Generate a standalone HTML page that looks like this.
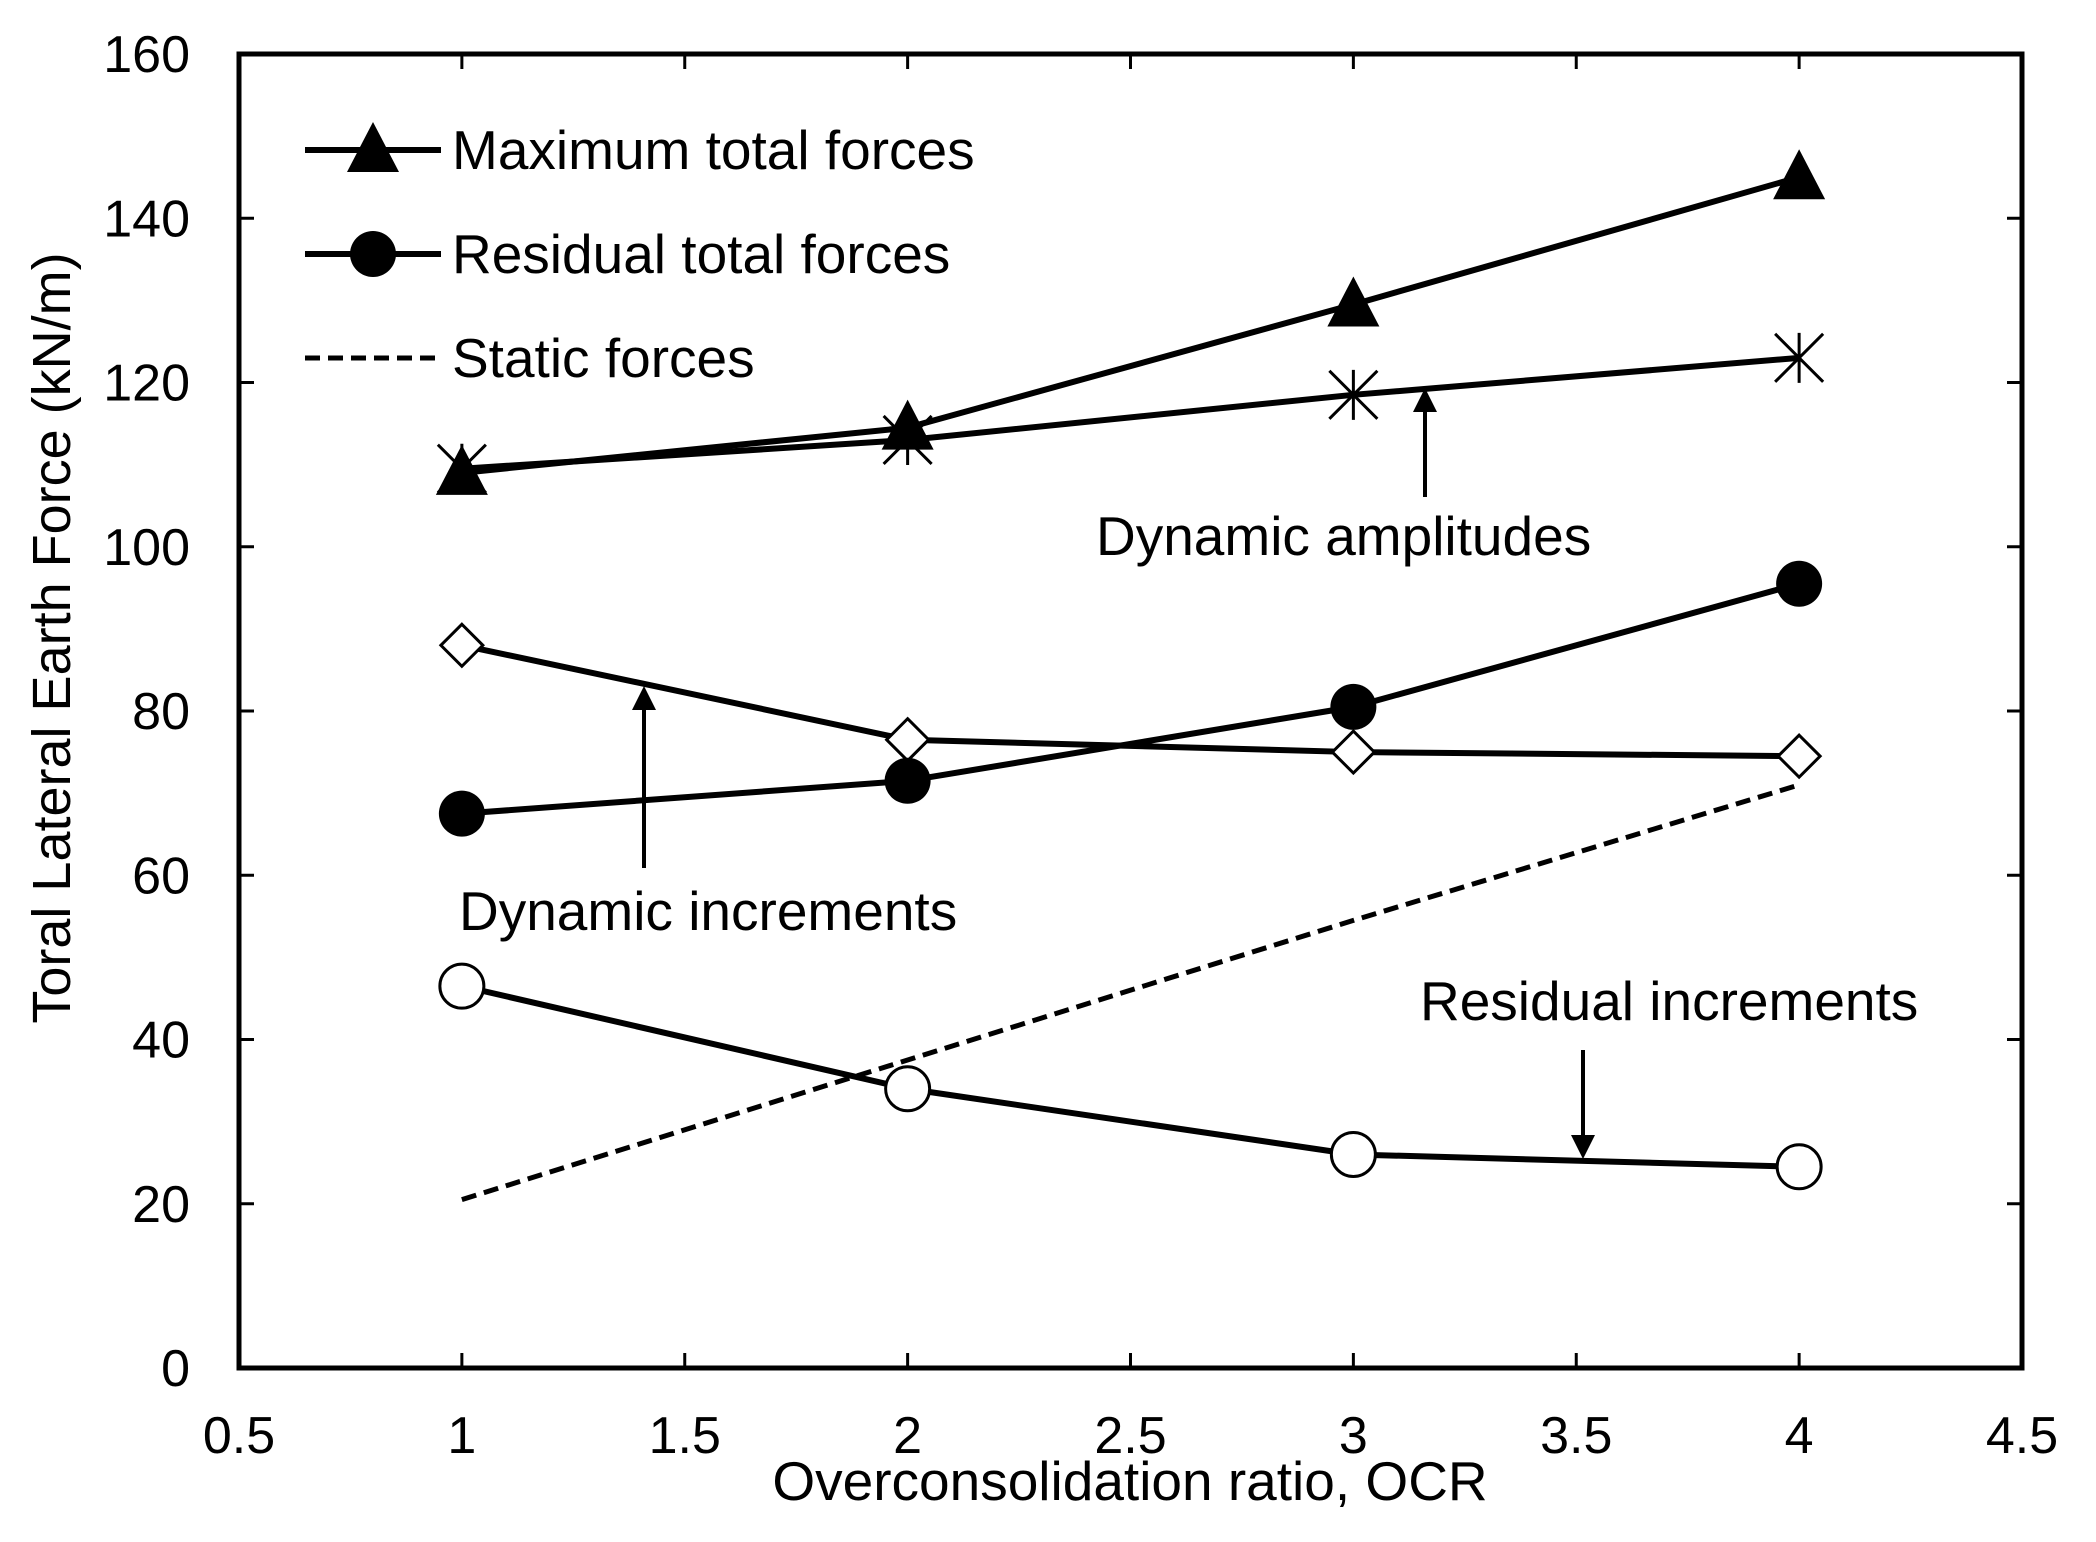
<!DOCTYPE html>
<html><head><meta charset="utf-8"><style>html,body{margin:0;padding:0;background:#fff}svg{display:block}text{font-family:"Liberation Sans",Arial,sans-serif;fill:#000}</style></head>
<body>
<svg id="chart" width="2096" height="1542" xmlns="http://www.w3.org/2000/svg"></svg>
<script>
const categories=[1,2,3,4];
const maxTotal=[109,114.5,129.5,145];
const dynAmp=[109.5,113,118.5,123];
const dynInc=[88,76.5,75,74.5];
const resTotal=[67.5,71.5,80.5,95.5];
const resInc=[46.5,34,26,24.5];
const staticF=[20.5,37.5,54.5,71];
const xTicks=[0.5,1,1.5,2,2.5,3,3.5,4,4.5];
const yTicks=[0,20,40,60,80,100,120,140,160];
const L=239,R=2022,T=54,B=1368;
const X=v=>L+(v-0.5)/4*(R-L);
const Y=v=>B-v/160*(B-T);
const svg=document.getElementById('chart');
const NS='http://www.w3.org/2000/svg';
function mk(tag,attrs,parent){const e=document.createElementNS(NS,tag);for(const k in attrs)e.setAttribute(k,attrs[k]);(parent||svg).appendChild(e);return e;}
function txt(s,x,y,size,anchor,name){const t=mk('text',{x:x,y:y,'font-size':size,'text-anchor':anchor||'start'});t.textContent=s;


return t;}
const frame=mk('rect',{x:L,y:T,width:R-L,height:B-T,fill:'none',stroke:'#000','stroke-width':5});


xTicks.forEach(v=>{const x=X(v);
 const t1=mk('line',{x1:x,x2:x,y1:B,y2:B-15,stroke:'#000','stroke-width':3});
 
 
 const t2=mk('line',{x1:x,x2:x,y1:T,y2:T+15,stroke:'#000','stroke-width':3});
 
 
 txt(String(v),x,1453,52,'middle','x-tick-label');});
yTicks.forEach(v=>{const y=Y(v);
 const t1=mk('line',{x1:L,x2:L+15,y1:y,y2:y,stroke:'#000','stroke-width':3});
 
 
 const t2=mk('line',{x1:R,x2:R-15,y1:y,y2:y,stroke:'#000','stroke-width':3});
 
 
 txt(String(v),190,y+18,52,'end','y-tick-label');});
txt('Overconsolidation ratio, OCR',1130,1500,55,'middle','x-axis-title');
const yt=txt('Toral Lateral Earth Force (kN/m)',0,0,54,'middle','y-axis-title');
yt.setAttribute('transform','translate(70,638) rotate(-90)');
function series(vals,name,dash){const d=vals.map((v,i)=>(i?'L':'M')+X(categories[i])+','+Y(v)).join(' ');
 const p=mk('path',{d:d,fill:'none',stroke:'#000','stroke-width':dash?5:6,'stroke-dasharray':dash?'15,8':'none'});
 
 }
function marker(type,x,y,name,g){let e;
 if(type==='tri')e=mk('polygon',{points:`${x},${y-28} ${x-26},${y+22} ${x+26},${y+22}`,fill:'#000'},g);
 else if(type==='circ')e=mk('circle',{cx:x,cy:y,r:23,fill:'#000'},g);
 else if(type==='ocirc')e=mk('circle',{cx:x,cy:y,r:22,fill:'#fff',stroke:'#000','stroke-width':3},g);
 else if(type==='dia')e=mk('polygon',{points:`${x},${y-21} ${x+21},${y} ${x},${y+21} ${x-21},${y}`,fill:'#fff',stroke:'#000','stroke-width':3},g);
 else {e=mk('path',{d:`M${x},${y-25}L${x},${y+25}M${x-24},${y-24}L${x+24},${y+24}M${x-24},${y+24}L${x+24},${y-24}`,stroke:'#000','stroke-width':3},g);}
 
 }
function plot(vals,type,name){series(vals,name);vals.forEach((v,i)=>marker(type,X(categories[i]),Y(v),name+'-point'));}
series(staticF,'static-forces',true);
plot(resInc,'ocirc','residual-increments');
plot(dynInc,'dia','dynamic-increments');
plot(resTotal,'circ','residual-total-forces');
plot(dynAmp,'ast','dynamic-amplitudes');
plot(maxTotal,'tri','maximum-total-forces');
function leg(y,type,label,name){const l=mk('line',{x1:305,x2:441,y1:y,y2:y,stroke:'#000','stroke-width':type?6:5,'stroke-dasharray':type?'none':'15,8'});
 
 
 if(type)marker(type,373,y,name+'-legend-marker');
 txt(label,452,y+19,55,'start',name+'-legend-label');}
leg(150,'tri','Maximum total forces','maximum-total-forces');
leg(254,'circ','Residual total forces','residual-total-forces');
leg(358,null,'Static forces','static-forces');
mk('defs',{}).innerHTML='<marker id="ah" markerWidth="6" markerHeight="6" refX="5" refY="3" orient="auto"><path d="M0,0L6,3L0,6z" fill="#000"/></marker>';
function arrow(x,y1,y2,name){const a=mk('line',{x1:x,x2:x,y1:y1,y2:y2,stroke:'#000','stroke-width':4,'marker-end':'url(#ah)'});
 
 }
txt('Dynamic amplitudes',1096,555,55,'start','dynamic-amplitudes-annotation');
arrow(1425,497,392,'dynamic-amplitudes-arrow');
txt('Dynamic increments',459,930,55,'start','dynamic-increments-annotation');
arrow(644,868,690,'dynamic-increments-arrow');
txt('Residual increments',1420,1020,55,'start','residual-increments-annotation');
arrow(1583,1050,1155,'residual-increments-arrow');
</script>
</body></html>
